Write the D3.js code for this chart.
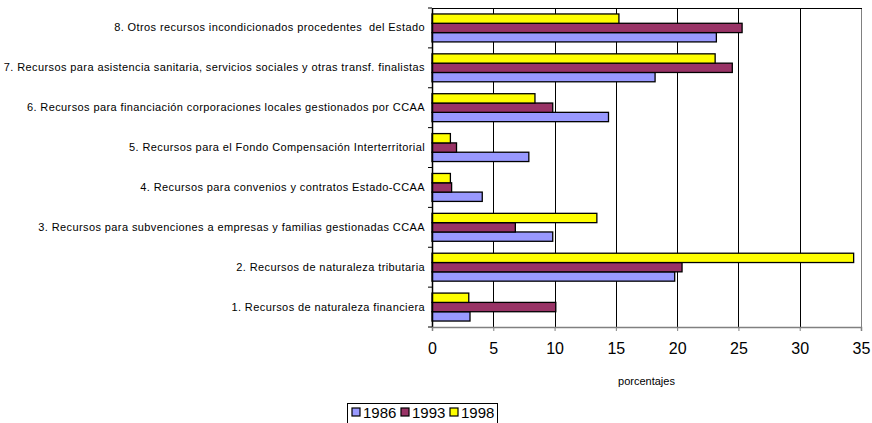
<!DOCTYPE html>
<html>
<head>
<meta charset="utf-8">
<script src="https://cdn.jsdelivr.net/npm/d3@7"></script>
<style>
  body { margin: 0; background: #fff; }
  text { font-family: "Liberation Sans", Arial, sans-serif; fill: #000; white-space: pre; }
</style>
</head>
<body>
<div id="content"></div>
<script>
// datas
const categories = [
  "1. Recursos de naturaleza financiera",
  "2. Recursos de naturaleza tributaria",
  "3. Recursos para subvenciones a empresas y familias gestionadas CCAA",
  "4. Recursos para convenios y contratos Estado-CCAA",
  "5. Recursos para el Fondo Compensación Interterritorial",
  "6. Recursos para financiación corporaciones locales gestionados por CCAA",
  "7. Recursos para asistencia sanitaria, servicios sociales y otras transf. finalistas",
  "8. Otros recursos incondicionados procedentes  del Estado"
];
const years = ["1986", "1993", "1998"];
const v1986 = [3.1, 19.8, 9.85, 4.1, 7.9, 14.4, 18.2, 23.2];
const v1993 = [10.1, 20.4, 6.8, 1.6, 2.0, 9.85, 24.5, 25.3];
const v1998 = [3.0, 34.4, 13.45, 1.5, 1.5, 8.4, 23.1, 15.25];
const xTicks = [0, 5, 10, 15, 20, 25, 30, 35];
const colors = {"1986": "#9999ff", "1993": "#993366", "1998": "#ffff00"};

const series = {"1986": v1986, "1993": v1993, "1998": v1998};

// view
const w = 872, h = 423;
const pLeft = 432, pRight = 861, pTop = 8, pBottom = 327;

const svg = d3.select("#content")
  .append("svg")
  .attr("width", w)
  .attr("height", h);

const x = d3.scaleLinear().domain([0, 35]).range([pLeft, pRight]);
// category 1 at bottom
const y = d3.scaleBand().domain(categories).range([pBottom, pTop]);
// inside a band: 1998 on top, 1986 at bottom
const yInner = d3.scaleBand().domain(["1998", "1993", "1986"])
  .range([0, y.bandwidth()]).paddingInner(0).paddingOuter(0.64);

// grid
svg.append("g")
  .selectAll("line")
  .data(xTicks.slice(1))
  .enter()
  .append("line")
  .attr("x1", d => Math.round(x(d)) + 0.5)
  .attr("x2", d => Math.round(x(d)) + 0.5)
  .attr("y1", pTop)
  .attr("y2", pBottom)
  .attr("stroke", d => d === 35 ? "#808080" : "#000")
  .attr("stroke-width", 1);

// top border
svg.append("line")
  .attr("x1", pLeft).attr("x2", pRight + 1)
  .attr("y1", pTop + 0.5).attr("y2", pTop + 0.5)
  .attr("stroke", "#000");

// bars
const groups = svg.append("g")
  .selectAll("g")
  .data(categories)
  .enter()
  .append("g")
  .attr("transform", d => `translate(0,${y(d)})`);

groups.selectAll("rect")
  .data((d, i) => years.map(yr => ({yr, v: series[yr][i]})))
  .enter()
  .append("rect")
  .attr("x", x(0))
  .attr("y", d => yInner(d.yr))
  .attr("width", d => x(d.v) - x(0))
  .attr("height", yInner.bandwidth())
  .attr("fill", d => colors[d.yr])
  .attr("stroke", "#000")
  .attr("stroke-width", 1.3);

// y axis
const yAxis = d3.axisLeft(y).tickSize(0).tickPadding(7);
const gy = svg.append("g")
  .attr("transform", `translate(${pLeft},0)`)
  .call(yAxis);
gy.select(".domain").attr("stroke", "#000").attr("stroke-width", 1.5);
gy.selectAll("text")
  .attr("font-size", 11)
  .attr("letter-spacing", 0.4)
  .attr("font-family", "Liberation Sans, Arial, sans-serif");
// category separators ticks
gy.selectAll("line.sep")
  .data(categories.concat([null]))
  .enter()
  .append("line")
  .attr("class", "sep")
  .attr("x1", -4).attr("x2", 0)
  .attr("y1", (d, i) => i < categories.length ? y(d) + y.bandwidth() : pTop)
  .attr("y2", (d, i) => i < categories.length ? y(d) + y.bandwidth() : pTop)
  .attr("stroke", "#000");

// x axis
const xAxis = d3.axisBottom(x).tickValues(xTicks).tickSize(4).tickPadding(12);
const gx = svg.append("g")
  .attr("transform", `translate(0,${pBottom})`)
  .call(xAxis);
gx.select(".domain").attr("stroke", "#808080").attr("stroke-width", 1.5);
gx.selectAll("line").attr("stroke", "#808080");
gx.selectAll("text").attr("font-size", 16).attr("font-family", "Liberation Sans, Arial, sans-serif");

// axis title
svg.append("text")
  .attr("x", (pLeft + pRight) / 2)
  .attr("y", 385)
  .attr("text-anchor", "middle")
  .attr("font-size", 11)
  .text("porcentajes");

// legend
const lg = svg.append("g").attr("transform", "translate(347,403)");
lg.append("rect")
  .attr("x", 0.5).attr("y", 0.5)
  .attr("width", 150).attr("height", 24)
  .attr("fill", "#fff").attr("stroke", "#000");
const items = lg.selectAll("g")
  .data(years)
  .enter()
  .append("g")
  .attr("transform", (d, i) => `translate(${5 + i * 49},0)`);
items.append("rect")
  .attr("x", 0).attr("y", 5)
  .attr("width", 8).attr("height", 8)
  .attr("fill", d => colors[d])
  .attr("stroke", "#000")
  .attr("stroke-width", 1.2);
items.append("text")
  .attr("x", 11).attr("y", 15)
  .attr("font-size", 15)
  .text(d => d);
</script>
</body>
</html>
